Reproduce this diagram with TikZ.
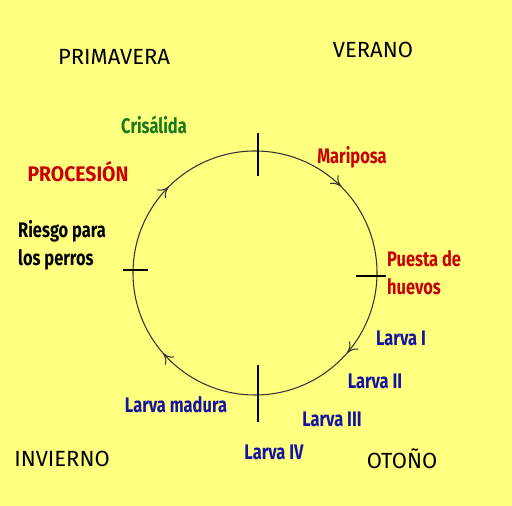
\documentclass[tikz,border=0pt]{standalone}
\usepackage{fontspec}
\setmainfont{Fira Sans}
\newfontfamily\stagefont[FakeStretch=0.78]{Fira Sans}
\newfontfamily\capsfont[FakeStretch=0.92]{Fira Sans}
\usetikzlibrary{arrows.meta,decorations.markings}
\definecolor{cbg}{HTML}{FFFF80}
\definecolor{cred}{HTML}{C80000}
\definecolor{cgreen}{HTML}{1A781A}
\definecolor{cblue}{HTML}{1414A0}
\tikzset{
  every picture/.style={>={To[length=6pt,width=7pt]}, x=0.02cm, y=0.02cm},
  season/.style={font=\fontsize{12.5}{15}\selectfont},
  stage/.style={font=\stagefont\fontsize{12}{16}\selectfont\bfseries, align=left},
  capsstage/.style={font=\capsfont\fontsize{12}{16}\selectfont\bfseries},
  cycle/.style={draw=black!80, line width=0.6pt, postaction={decorate},
    decoration={markings,
      mark=at position 0.125 with {\arrow{>}},
      mark=at position 0.364 with {\arrow{>}},
      mark=at position 0.636 with {\arrow{>}},
      mark=at position 0.875 with {\arrow{>}}}},
  tick/.style={line width=1.6pt},
}
\def\cx{255}
\def\cy{233}
\def\r{122}
\newcommand{\bbox}{\path[use as bounding box] (0,0) rectangle (512,506);}

\begin{document}
\begin{tikzpicture}
  \bbox
  \fill[cbg] (0,0) rectangle (512,506);
  \draw[cycle] (\cx,\cy) ++(90:\r) arc (90:-270:\r);
  \draw[tick] (258,330) -- (258,373);
  \draw[tick] (258,84) -- (258,141);
  \draw[tick] (123,236) -- (148,236);
  \draw[tick] (356,230) -- (386,230);
  \node[season] (prim) at (114,449) {PRIMAVERA};
  \node[season] (ver) at (373,456) {VERANO};
  \node[season] (inv) at (62,47) {INVIERNO};
  \node[season] (oto) at (402,47) {OTOÑO};
  \node[stage,cgreen] (cris) at (154,381) {Crisálida};
  \node[capsstage,cred] (proc) at (78,334) {PROCESIÓN};
  \node[stage,anchor=west] (riesgo) at (12,261) {Riesgo para\\los perros};
  \node[stage,cred] (mari) at (352,349) {Mariposa};
  \node[stage,cred,anchor=west] (puesta) at (381,233) {Puesta de\\huevos};
  \node[stage,cblue] (l1) at (401,168) {Larva I};
  \node[stage,cblue] (l2) at (375,125) {Larva II};
  \node[stage,cblue] (l3) at (332,87) {Larva III};
  \node[stage,cblue] (l4) at (274,54) {Larva IV};
  \node[stage,cblue] (lm) at (176,101) {Larva madura};
\end{tikzpicture}
\end{document}
